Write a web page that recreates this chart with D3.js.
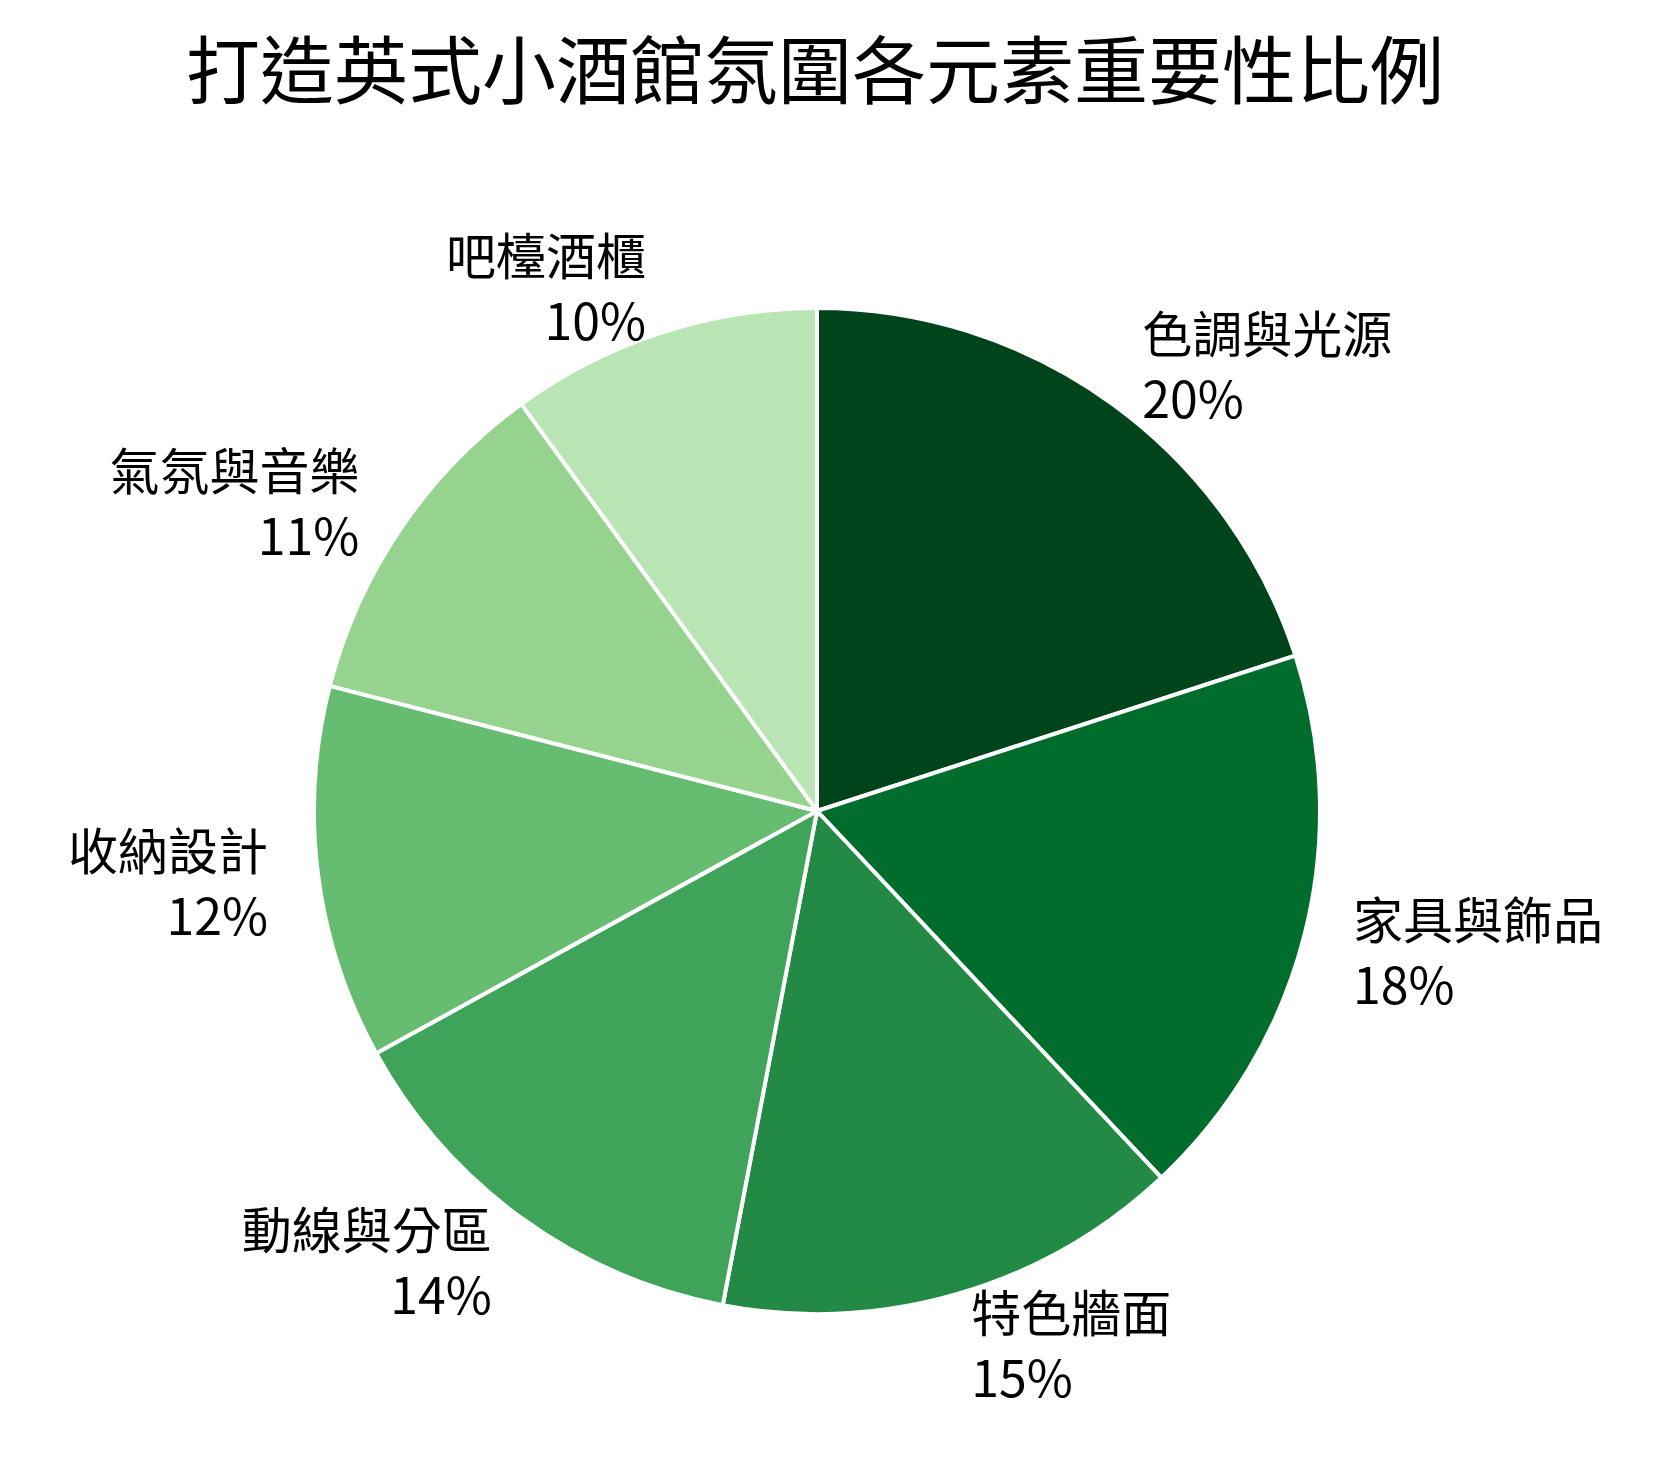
<!DOCTYPE html><html><head><meta charset="utf-8"><script src="https://cdn.jsdelivr.net/npm/d3@7"></script>
<style>body{margin:0;background:#fff}text{font-family:"Noto Sans CJK TC","Noto Sans CJK SC",sans-serif}</style></head><body><svg id="c" width="1670" height="1468"></svg>
<script>
const categories=["色調與光源","家具與飾品","特色牆面","動線與分區","收納設計","氣氛與音樂","吧檯酒櫃"];
const values=[20,18,15,14,12,11,10];
const colors=["#00441b","#006d2c","#228a44","#3fa45a","#66bc70","#95d38f","#b9e4b3"];
const svg=d3.select("#c");
svg.append("text").attr("x",815).attr("y",98).attr("text-anchor","middle").attr("font-size",74).text("打造英式小酒館氛圍各元素重要性比例");
const cx=817,cy=811,r=503;
const g=svg.append("g").attr("transform",`translate(${cx},${cy})`);
const pie=d3.pie().sort(null).value(d=>d)(values);
const arc=d3.arc().innerRadius(0).outerRadius(r);
g.selectAll("path").data(pie).join("path").attr("d",arc).attr("fill",(d,i)=>colors[i]).attr("stroke","#fff").attr("stroke-width",4);
pie.forEach((d,i)=>{const a=(d.startAngle+d.endAngle)/2,L=r*1.1;
 const x=L*Math.sin(a),y=-L*Math.cos(a);
 const t=g.append("text").attr("x",x).attr("y",y).attr("font-size",50).attr("text-anchor",Math.sin(a)>=0?"start":"end");
 t.append("tspan").attr("x",x).attr("dy","-0.2em").text(categories[i]);
 t.append("tspan").attr("x",x).attr("dy","1.3em").text(values[i]+"%");});
</script></body></html>
